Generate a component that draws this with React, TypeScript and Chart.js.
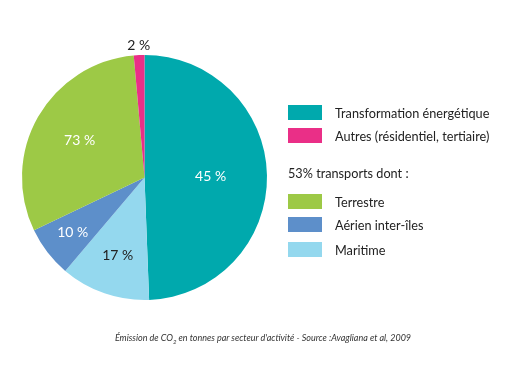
import React, { useEffect, useRef } from "react";
import { Chart, registerables } from "chart.js";

Chart.register(...registerables);

const categories = ["Transformation énergétique", "Maritime", "Aérien inter-îles", "Terrestre", "Autres (résidentiel, tertiaire)"];
const values = [49.4, 11.8, 6.7, 30.7, 1.4];
const sliceLabels = ["45 %", "17 %", "10 %", "73 %", "2 %"];
const colors = ["#00A9AD", "#94D8EE", "#5D8FCA", "#9DC946", "#EA2F87"];
const labelColors = ["#ffffff", "#222222", "#ffffff", "#ffffff", "#222222"];
const labelRadius = [0.54, 0.67, 0.74, 0.61, 1.08];

const legendTop = ["Transformation énergétique", "Autres (résidentiel, tertiaire)"];
const legendTopColors = ["#00A9AD", "#EA2F87"];
const transportTitle = "53% transports dont :";
const legendBottom = ["Terrestre", "Aérien inter-îles", "Maritime"];
const legendBottomColors = ["#9DC946", "#5D8FCA", "#94D8EE"];

const FONT = "Lato, 'Open Sans', sans-serif";

const labelPlugin = {
  id: "sliceLabels",
  afterDatasetsDraw(chart: any) {
    const ctx = chart.ctx;
    const meta = chart.getDatasetMeta(0);
    ctx.save();
    ctx.font = `14px ${FONT}`;
    ctx.textAlign = "center";
    ctx.textBaseline = "middle";
    meta.data.forEach((arc: any, i: number) => {
      const { x, y, startAngle, endAngle, outerRadius } = arc.getProps(["x", "y", "startAngle", "endAngle", "outerRadius"], true);
      const mid = (startAngle + endAngle) / 2;
      const r = outerRadius * labelRadius[i];
      ctx.fillStyle = labelColors[i];
      ctx.fillText(sliceLabels[i], x + Math.cos(mid) * r, y + Math.sin(mid) * r);
    });
    ctx.restore();
  },
};

function PieChart() {
  const ref = useRef<HTMLCanvasElement>(null);
  useEffect(() => {
    if (!ref.current) return;
    const chart = new Chart(ref.current, {
      type: "pie",
      data: {
        labels: categories,
        datasets: [{ data: values, backgroundColor: colors, borderWidth: 0 }],
      },
      options: {
        animation: false,
        responsive: false,
        layout: { padding: { left: 22, right: 241, top: 55, bottom: 66 } },
        plugins: { legend: { display: false }, tooltip: { enabled: false } },
      },
      plugins: [labelPlugin],
    });
    return () => chart.destroy();
  }, []);
  return <canvas ref={ref} width={508} height={366} style={{ position: "absolute", left: 0, top: 0 }} />;
}

function LegendItem({ color, text, top }: { color: string; text: string; top: number }) {
  return (
    <div style={{ position: "absolute", left: 288, top, height: 15, display: "flex", alignItems: "center" }}>
      <div style={{ width: 34, height: 15, background: color }} />
      <span style={{ marginLeft: 13, fontSize: 12.7, color: "#222", whiteSpace: "nowrap", fontFamily: FONT }}>{text}</span>
    </div>
  );
}

export default function App() {
  const topPos = [105, 128];
  const bottomPos = [194, 217, 242];
  return (
    <div style={{ position: "absolute", left: 0, top: 0, width: 508, height: 366, background: "#fff", fontFamily: FONT }}>
      <PieChart />
      {legendTop.map((t, i) => (
        <LegendItem key={t} color={legendTopColors[i]} text={t} top={topPos[i]} />
      ))}
      <div style={{ position: "absolute", left: 288, top: 165, fontSize: 12.7, color: "#222", whiteSpace: "nowrap" }}>{transportTitle}</div>
      {legendBottom.map((t, i) => (
        <LegendItem key={t} color={legendBottomColors[i]} text={t} top={bottomPos[i]} />
      ))}
      <div style={{ position: "absolute", left: 0, width: 526, top: 332, textAlign: "center", fontSize: 9, fontStyle: "italic", color: "#333", whiteSpace: "nowrap" }}>
        Émission de CO<sub style={{ fontSize: 6 }}>2</sub> en tonnes par secteur d'activité - Source :Avagliana et al, 2009
      </div>
    </div>
  );
}
